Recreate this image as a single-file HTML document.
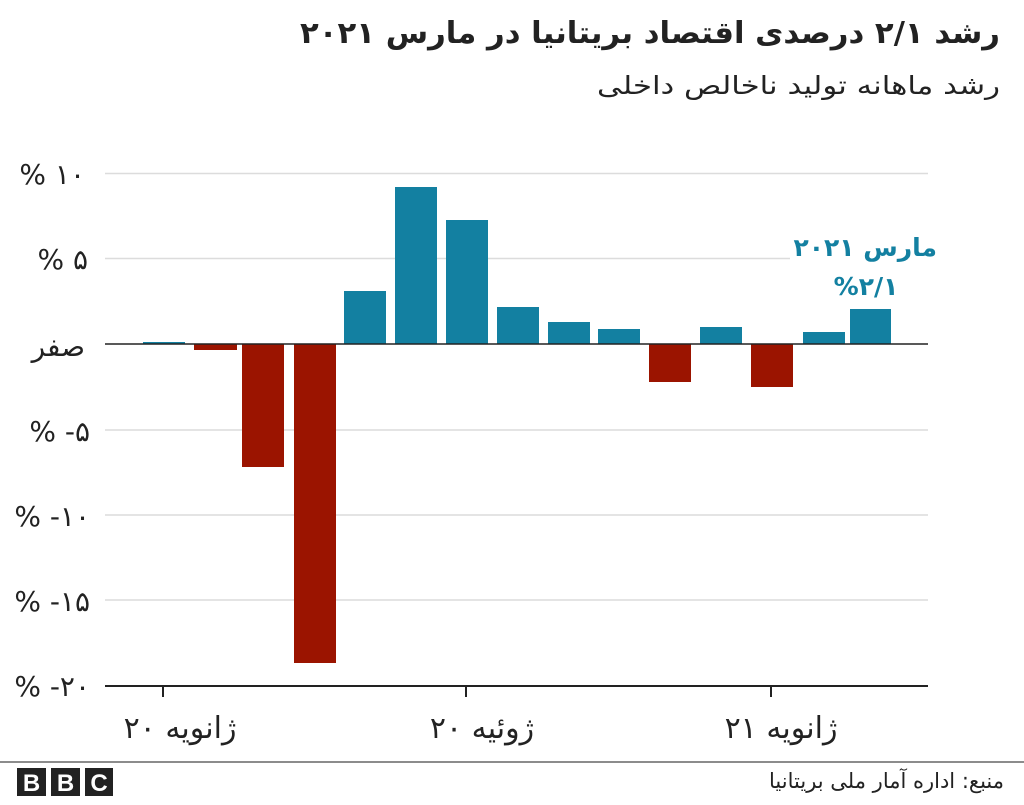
<!DOCTYPE html>
<html><head><meta charset="utf-8"><style>
body{margin:0;background:#fff;width:1024px;height:800px;overflow:hidden}
svg text{font-family:"DejaVu Sans","Liberation Sans",sans-serif}
</style></head><body>
<svg width="1024" height="800" xmlns="http://www.w3.org/2000/svg">
<text x="1000" y="43" text-anchor="start" direction="rtl" font-size="30" font-weight="bold" fill="#222" textLength="700" lengthAdjust="spacingAndGlyphs">رشد ۲/۱ درصدی اقتصاد بریتانیا در مارس ۲۰۲۱</text>
<text x="1000" y="94" text-anchor="start" direction="rtl" font-size="25" fill="#222" textLength="403" lengthAdjust="spacingAndGlyphs">رشد ماهانه تولید ناخالص داخلی</text>
<g stroke="#dcdcdc" stroke-width="1.5">
<line x1="105" x2="928" y1="173.5" y2="173.5"/>
<line x1="105" x2="928" y1="258.5" y2="258.5"/>
<line x1="105" x2="928" y1="430" y2="430"/>
<line x1="105" x2="928" y1="515" y2="515"/>
<line x1="105" x2="928" y1="600" y2="600"/>
</g>
<g font-size="28" fill="#222" text-anchor="end">
<text x="85" y="184">% ۱۰</text>
<text x="88" y="269">% ۵</text>
<text x="85" y="356" direction="rtl" text-anchor="start">صفر</text>
<text x="90" y="441">% -۵</text>
<text x="90" y="526">% -۱۰</text>
<text x="90" y="611">% -۱۵</text>
<text x="90" y="696">% -۲۰</text>
</g>
<g fill="#1380a1">
<rect x="143" y="342" width="42" height="2"/>
<rect x="344" y="291" width="42" height="53"/>
<rect x="395" y="187" width="42" height="157"/>
<rect x="446" y="220" width="42" height="124"/>
<rect x="497" y="307" width="42" height="37"/>
<rect x="548" y="322" width="42" height="22"/>
<rect x="598" y="329" width="42" height="15"/>
<rect x="700" y="327" width="42" height="17"/>
<rect x="803" y="332" width="42" height="12"/>
<rect x="850" y="309" width="41" height="35"/>
</g>
<g fill="#9b1400">
<rect x="194" y="344" width="43" height="6"/>
<rect x="242" y="344" width="42" height="123"/>
<rect x="294" y="344" width="42" height="319"/>
<rect x="649" y="344" width="42" height="38"/>
<rect x="751" y="344" width="42" height="43"/>
</g>
<line x1="105" x2="928" y1="344" y2="344" stroke="#222" stroke-width="1.5"/>
<line x1="105" x2="928" y1="686" y2="686" stroke="#222" stroke-width="2"/>
<g stroke="#222" stroke-width="2">
<line x1="163" x2="163" y1="686" y2="697"/>
<line x1="466" x2="466" y1="686" y2="697"/>
<line x1="771" x2="771" y1="686" y2="697"/>
</g>
<g font-size="30" fill="#222" text-anchor="middle" direction="rtl">
<text x="180" y="738">ژانویه ۲۰</text>
<text x="482" y="738">ژوئیه ۲۰</text>
<text x="781" y="738">ژانویه ۲۱</text>
</g>
<rect x="790" y="228" width="150" height="70" fill="#fff"/>
<text x="937" y="256" text-anchor="start" direction="rtl" font-size="25" font-weight="bold" fill="#1380a1">مارس ۲۰۲۱</text>
<text x="866" y="295" text-anchor="middle" font-size="25" font-weight="bold" fill="#1380a1">%۲/۱</text>
<line x1="0" x2="1024" y1="762" y2="762" stroke="#666" stroke-width="1.5"/>
<g fill="#222">
<rect x="17" y="768" width="29" height="28"/>
<rect x="51" y="768" width="29" height="28"/>
<rect x="85" y="768" width="28" height="28"/>
</g>
<g fill="#fff" font-size="24" font-weight="bold" text-anchor="middle">
<text x="31.5" y="791" style="font-family:'Liberation Sans',sans-serif">B</text>
<text x="65.5" y="791" style="font-family:'Liberation Sans',sans-serif">B</text>
<text x="99" y="791" style="font-family:'Liberation Sans',sans-serif">C</text>
</g>
<text x="1004" y="788" text-anchor="start" direction="rtl" font-size="21" fill="#222">منبع: اداره آمار ملی بریتانیا</text>
</svg>
</body></html>
